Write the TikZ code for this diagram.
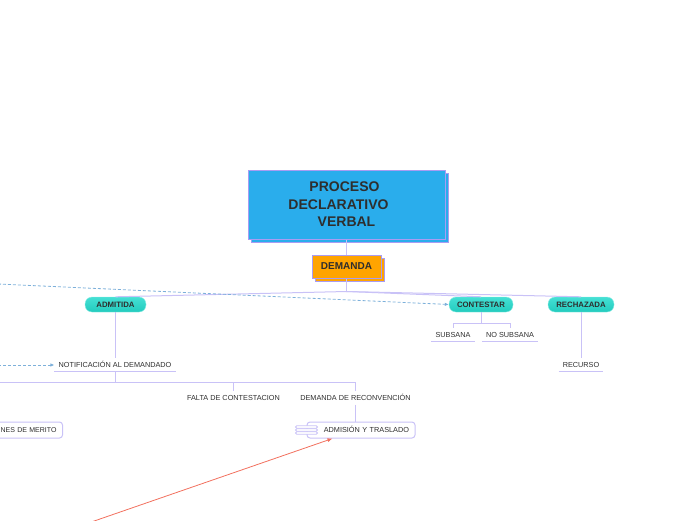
\documentclass[tikz,border=0pt]{standalone}
\usepackage{fontspec}
\setmainfont{Liberation Sans}
\usetikzlibrary{positioning,shadows,arrows.meta}
\definecolor{linea}{HTML}{C9C2F7}
\definecolor{borde}{HTML}{A99CF2}
\definecolor{azul}{HTML}{2AADEC}
\definecolor{naranja}{HTML}{FFA400}
\definecolor{turq}{HTML}{22CBBE}
\definecolor{turqclaro}{HTML}{45E0D4}
\definecolor{punteado}{HTML}{7DB0DA}
\definecolor{rojo}{HTML}{F2705E}
\definecolor{texto}{HTML}{2E2E2E}

\begin{document}
\begin{tikzpicture}[x=1pt,y=-1pt,
rama/.style={draw=linea, line width=1pt},
principal/.style={draw=borde, fill=azul, line width=1pt, minimum width=197pt, minimum height=69pt,
  align=center, text=texto, font=\fontsize{14}{17.5}\selectfont\bfseries,
  general shadow={draw=borde, fill=azul, line width=1pt, shadow xshift=3pt, shadow yshift=-3pt}},
demanda/.style={draw=borde, fill=naranja, line width=1pt, minimum width=69pt, minimum height=23pt,
  text=texto, font=\fontsize{10}{12}\selectfont\bfseries,
  general shadow={draw=borde, fill=naranja, line width=1pt, shadow xshift=3pt, shadow yshift=-3pt}},
pildora/.style={draw=turqclaro!60!white, top color=turqclaro, bottom color=turq, rounded corners=7pt,
  minimum height=15pt, text=texto, font=\fontsize{7.8}{9}\selectfont\bfseries, inner ysep=0pt},
hoja/.style={text=texto, font=\fontsize{7.3}{8}\selectfont, text height=5pt, text depth=0pt,
  inner xsep=4pt, inner ysep=4pt},
caja/.style={draw=linea, fill=white, line width=1pt, rounded corners=3pt, minimum height=16pt,
  text=texto, font=\fontsize{7.3}{8}\selectfont, text height=5pt, text depth=0pt, inner xsep=6pt, align=right},
enlace/.style={draw=punteado, line width=0.8pt, dash pattern=on 3pt off 2pt, -{Latex[length=4pt,width=3.5pt]}},
flecharoja/.style={draw=rojo, line width=0.8pt, -{Latex[length=5pt,width=4pt]}}]
\useasboundingbox (0,0) rectangle (696,520);
\node[principal] (titulo) at (346.5,204.5) {PROCESO\hspace{4pt}\mbox{}\\DECLARATIVO\hspace{16pt}\mbox{}\\VERBAL};
\node[demanda, below=15pt of titulo] (dem) {DEMANDA};
\node[pildora, minimum width=61pt] (adm) at (115.5,304.5) {ADMITIDA};
\node[pildora, minimum width=64pt] (con) at (481,304.5) {CONTESTAR};
\node[pildora, minimum width=66pt] (rec) at (581,304.5) {RECHAZADA};
\node[hoja] (notif) at (115,365) {NOTIFICACIÓN AL DEMANDADO};
\node[hoja] (sub) at (453,335) {SUBSANA};
\node[hoja] (nosub) at (510,335) {NO SUBSANA};
\node[hoja] (recu) at (581,364.5) {RECURSO};
\node[hoja] (falta) at (233.5,398) {FALTA DE CONTESTACION};
\node[hoja] (reconv) at (355.5,398) {DEMANDA DE RECONVENCIÓN};
\node[caja, text width=96pt] (admision) at (361,430) {ADMISIÓN Y TRASLADO};
\node[caja, text width=80pt, anchor=east, font=\fontsize{7}{8}\selectfont] (merito) at (63,430) {NES DE MERITO};
\coordinate (izq1) at (-2,284);
\coordinate (izq2) at (-2,365);
\coordinate (izq3) at (-2,382);
\coordinate (abajo) at (85.5,524);
\draw[rama] (titulo.south) -- (dem.north);
\draw[rama] (dem.south) -- ++(0,13) coordinate (br);
\foreach \n in {adm,con,rec}
  \draw[rama] (br) -- (\n.north);
\foreach \n in {notif,sub,nosub,recu}
  \draw[rama] (\n.south west) -- (\n.south east);
\draw[rama] (adm.south) -- (adm.south |- notif.north);
\draw[rama] (con.south) -- ++(0,11) -| (sub.north);
\draw[rama] (con.south) -- ++(0,11) -| (nosub.north);
\draw[rama] (rec.south) -- (recu.north);
\draw[rama] (notif.south) |- (izq3);
\draw[rama] (izq3) -| (falta.north);
\draw[rama] (izq3) -| (reconv.north);
\draw[rama] (reconv.south) -- (reconv.south |- admision.north);
\foreach \y in {-3,0,3}
  \draw[draw=linea, fill=white, line width=0.8pt, rounded corners=1.2pt]
    ([xshift=-11pt,yshift=\y pt+1.2pt]admision.west) rectangle ++(22pt,-2.4pt);
\draw[enlace] (izq1) -- (con.west);
\draw[enlace] (izq2) -- (notif.west);
\draw[flecharoja] (abajo) -- ([xshift=26pt]admision.south west);
\end{tikzpicture}
\end{document}
